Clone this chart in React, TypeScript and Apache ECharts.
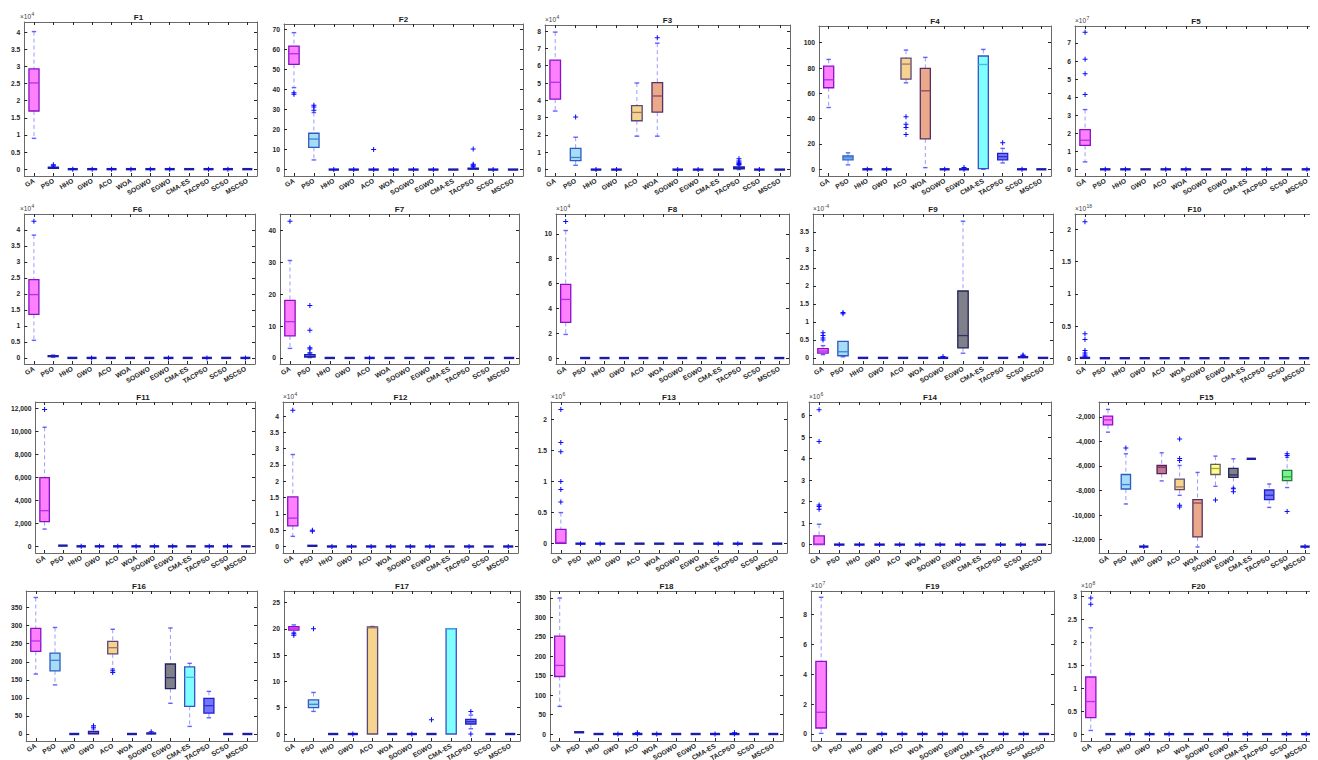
import React, { useEffect, useRef } from 'react';
import * as echarts from 'echarts';

const categories = ['GA', 'PSO', 'HHO', 'GWO', 'ACO', 'WOA', 'SOGWO', 'EGWO', 'CMA-ES', 'TACPSO', 'SCSO', 'MSCSO'];

const Z0 = [0, 0, 0, 0, 0];

// box rows: [min, q1, median, q3, max] per category, in displayed units
// F1 (x10^4)
const f1Ticks = [0, 0.5, 1, 1.5, 2, 2.5, 3, 3.5, 4];
const f1Box = [[0.9, 1.7, 2.52, 2.93, 4.02], [0.01, 0.02, 0.04, 0.06, 0.08], Z0, Z0, Z0, Z0, Z0, Z0, Z0, Z0, Z0, Z0];
const f1Out = [['PSO', 0.1], ['PSO', 0.13], ['HHO', 0], ['GWO', 0], ['ACO', 0], ['WOA', 0], ['SOGWO', 0], ['EGWO', 0], ['TACPSO', 0], ['SCSO', 0]];

// F2
const f2Ticks = [0, 10, 20, 30, 40, 50, 60, 70];
const f2Box = [[40.8, 52.4, 57.7, 61.5, 68.2], [4.8, 11.1, 15.2, 18.1, 28.4], Z0, Z0, Z0, Z0, Z0, Z0, Z0, [0, 0.2, 0.4, 0.7, 1.2], Z0, Z0];
const f2Out = [['GA', 37.5], ['GA', 38.3], ['PSO', 29.5], ['PSO', 31.2], ['PSO', 32], ['HHO', 0], ['GWO', 0], ['ACO', 0], ['ACO', 10], ['WOA', 0], ['SOGWO', 0], ['EGWO', 0], ['TACPSO', 1.6], ['TACPSO', 2.2], ['TACPSO', 2.6], ['TACPSO', 10.3], ['SCSO', 0]];

// F3 (x10^4)
const f3Ticks = [0, 1, 2, 3, 4, 5, 6, 7, 8];
const f3Box = [[3.38, 4.07, 5.04, 6.32, 7.94], [0.25, 0.52, 0.7, 1.22, 1.87], Z0, Z0, [1.93, 2.82, 3.3, 3.69, 5.0], [1.93, 3.32, 4.25, 5.02, 7.3], Z0, Z0, Z0, [0, 0.05, 0.1, 0.15, 0.25], Z0, Z0];
const f3Out = [['PSO', 3.03], ['WOA', 7.61], ['HHO', 0], ['GWO', 0], ['SOGWO', 0], ['EGWO', 0], ['SCSO', 0], ['TACPSO', 0.3], ['TACPSO', 0.35], ['TACPSO', 0.42], ['TACPSO', 0.5], ['TACPSO', 0.62]];

// F4
const f4Ticks = [0, 20, 40, 60, 80, 100];
const f4Box = [[48.8, 64.4, 70.7, 81.5, 86.8], [3.5, 7.5, 9, 10.5, 13], Z0, Z0, [68.3, 71.3, 83.1, 87.9, 94.2], [1.3, 24, 62, 79.7, 88.4], Z0, Z0, [0, 0.5, 82.8, 89.5, 94.7], [5, 7.5, 10, 12.5, 16.5], Z0, Z0];
const f4Out = [['ACO', 41.5], ['ACO', 35.5], ['ACO', 33], ['ACO', 27.5], ['TACPSO', 21], ['EGWO', 1.5], ['HHO', 0], ['GWO', 0], ['SOGWO', 0], ['EGWO', 0], ['SCSO', 0]];

// F5 (x10^7)
const f5Ticks = [0, 1, 2, 3, 4, 5, 6, 7];
const f5Box = [[0.41, 1.33, 1.61, 2.2, 3.31], Z0, Z0, Z0, Z0, Z0, Z0, Z0, Z0, Z0, Z0, Z0];
const f5Out = [['GA', 4.15], ['GA', 5.3], ['GA', 6.1], ['GA', 7.6], ['PSO', 0], ['HHO', 0], ['ACO', 0], ['WOA', 0], ['CMA-ES', 0], ['TACPSO', 0], ['MSCSO', 0]];

// F6 (x10^4)
const f6Ticks = [0, 0.5, 1, 1.5, 2, 2.5, 3, 3.5, 4];
const f6Box = [[0.55, 1.36, 1.98, 2.45, 3.84], [0.02, 0.04, 0.05, 0.07, 0.09], Z0, Z0, Z0, Z0, Z0, Z0, Z0, Z0, Z0, Z0];
const f6Out = [['GA', 4.27], ['GWO', 0], ['EGWO', 0], ['TACPSO', 0], ['MSCSO', 0]];

// F7
const f7Ticks = [0, 10, 20, 30, 40];
const f7Box = [[3.0, 6.9, 11.4, 18.1, 30.6], [0.1, 0.3, 0.5, 1.0, 1.3], Z0, Z0, Z0, Z0, Z0, Z0, Z0, Z0, Z0, Z0];
const f7Out = [['GA', 42.9], ['PSO', 1.6], ['PSO', 2.8], ['PSO', 3.2], ['PSO', 8.7], ['PSO', 16.5], ['ACO', 0]];

// F8 (x10^4)
const f8Ticks = [0, 2, 4, 6, 8, 10];
const f8Box = [[1.9, 2.87, 4.72, 5.93, 10.27], Z0, Z0, Z0, Z0, Z0, Z0, Z0, Z0, Z0, Z0, Z0];
const f8Out = [['GA', 11.0]];

// F9 (x10^-4)
const f9Ticks = [0, 0.5, 1, 1.5, 2, 2.5, 3, 3.5];
const f9Box = [[0.09, 0.13, 0.19, 0.26, 0.34], [0.03, 0.06, 0.17, 0.46, 0.47], Z0, Z0, Z0, Z0, Z0, [0.13, 0.28, 0.62, 1.86, 3.8], Z0, Z0, [0, 0.01, 0.02, 0.03, 0.04], Z0];
const f9Out = [['GA', 0.5], ['GA', 0.55], ['GA', 0.62], ['GA', 0.7], ['PSO', 1.23], ['PSO', 1.26], ['SOGWO', 0.04], ['SCSO', 0.06], ['SCSO', 0.08]];

// F10 (x10^18)
const f10Ticks = [0, 0.5, 1, 1.5, 2];
const f10Box = [[0, 0, 0.005, 0.01, 0.02], Z0, Z0, Z0, Z0, Z0, Z0, Z0, Z0, Z0, Z0, Z0];
const f10Out = [['GA', 0.03], ['GA', 0.05], ['GA', 0.08], ['GA', 0.12], ['GA', 0.29], ['GA', 0.38], ['GA', 2.12]];

// F11
const f11Ticks = [0, 2000, 4000, 6000, 8000, 10000, 12000];
const f11Box = [[1500, 2140, 3100, 5970, 10350], [20, 40, 60, 80, 120], Z0, Z0, Z0, Z0, Z0, Z0, Z0, Z0, Z0, Z0];
const f11Out = [['GA', 11900], ['HHO', 0], ['GWO', 0], ['ACO', 0], ['WOA', 0], ['SOGWO', 0], ['EGWO', 0], ['TACPSO', 0], ['SCSO', 0]];

// F12 (x10^4)
const f12Ticks = [0, 0.5, 1, 1.5, 2, 2.5, 3, 3.5, 4];
const f12Box = [[0.31, 0.63, 0.87, 1.52, 2.82], [0, 0.01, 0.02, 0.03, 0.05], Z0, Z0, Z0, Z0, Z0, Z0, Z0, Z0, Z0, Z0];
const f12Out = [['GA', 4.18], ['PSO', 0.47], ['PSO', 0.5], ['HHO', 0], ['GWO', 0], ['ACO', 0], ['WOA', 0], ['SOGWO', 0], ['EGWO', 0], ['TACPSO', 0], ['MSCSO', 0]];

// F13 (x10^6)
const f13Ticks = [0, 0.5, 1, 1.5, 2];
const f13Box = [[0, 0.005, 0.02, 0.23, 0.5], Z0, Z0, Z0, Z0, Z0, Z0, Z0, Z0, Z0, Z0, Z0];
const f13Out = [['GA', 0.67], ['GA', 0.87], ['GA', 1.0], ['GA', 1.48], ['GA', 1.63], ['GA', 2.16], ['PSO', 0], ['HHO', 0], ['CMA-ES', 0], ['TACPSO', 0]];

// F14 (x10^6)
const f14Ticks = [0, 1, 2, 3, 4, 5, 6];
const f14Box = [[0, 0.005, 0.02, 0.41, 0.95], Z0, Z0, Z0, Z0, Z0, Z0, Z0, Z0, Z0, Z0, Z0];
const f14Out = [['GA', 1.65], ['GA', 1.78], ['GA', 1.85], ['GA', 4.8], ['GA', 6.28], ['PSO', 0], ['HHO', 0], ['GWO', 0], ['ACO', 0], ['WOA', 0], ['SOGWO', 0], ['EGWO', 0], ['TACPSO', 0], ['SCSO', 0]];

// F15
const f15Ticks = [-12000, -10000, -8000, -6000, -4000, -2000];
const f15Box = [
  [-3250, -2660, -2250, -1940, -1400],
  [-9100, -7880, -7520, -6700, -5010],
  [-12569, -12569, -12569, -12569, -12569],
  [-7220, -6620, -6100, -5960, -4930],
  [-8390, -7930, -7710, -7080, -5960],
  [-12600, -11780, -9020, -8750, -6530],
  [-7660, -6700, -6210, -5880, -5200],
  [-7790, -6940, -6730, -6200, -5420],
  [-5500, -5450, -5420, -5400, -5380],
  [-9380, -8750, -8390, -7960, -7470],
  [-7760, -7190, -6890, -6370, -5300],
  [-12569, -12569, -12569, -12569, -12569],
];
const f15Out = [['PSO', -4540], ['HHO', -12569], ['ACO', -3800], ['ACO', -5400], ['ACO', -5550], ['ACO', -9200], ['ACO', -9350], ['SOGWO', -8780], ['EGWO', -7850], ['EGWO', -8100], ['SCSO', -5000], ['SCSO', -5150], ['SCSO', -9720], ['MSCSO', -12569]];

// F16
const f16Ticks = [0, 50, 100, 150, 200, 250, 300, 350];
const f16Box = [[166, 229, 257.6, 292.5, 378], [136, 175, 204, 224, 295], Z0, [0, 0.5, 2, 7, 14], [180, 222, 239, 256.5, 290], Z0, [0, 0.5, 1.5, 3, 5], [85, 125.5, 156, 193.8, 293.6], [21, 76.5, 157, 186, 195.6], [45, 58, 78.4, 98.6, 118], Z0, Z0];
const f16Out = [['GWO', 19], ['GWO', 23], ['ACO', 170], ['ACO', 175], ['SOGWO', 6.5]];

// F17
const f17Ticks = [0, 5, 10, 15, 20, 25];
const f17Box = [[19.3, 19.75, 20.0, 20.4, 20.75], [4.3, 5.0, 5.65, 6.5, 7.9], Z0, Z0, [0, 0, 20.2, 20.35, 20.45], Z0, Z0, Z0, [0, 0, 20.0, 20.05, 20.1], [1.0, 1.9, 2.35, 2.8, 3.6], Z0, Z0];
const f17Out = [['GA', 18.8], ['GA', 19.05], ['PSO', 20], ['GWO', 0], ['SOGWO', 0], ['EGWO', 2.7], ['TACPSO', 4.3], ['TACPSO', 0]];

// F18
const f18Ticks = [0, 50, 100, 150, 200, 250, 300, 350];
const f18Box = [[71, 148, 176.5, 252, 350], [2, 3.5, 4.5, 5.5, 7], Z0, Z0, Z0, Z0, Z0, Z0, Z0, Z0, Z0, Z0];
const f18Out = [['GWO', 0], ['ACO', 0], ['ACO', 3], ['WOA', 0], ['CMA-ES', 0], ['TACPSO', 0], ['TACPSO', 3]];

// F19 (x10^7)
const f19Ticks = [0, 2, 4, 6, 8];
const f19Box = [[0.04, 0.4, 1.45, 4.86, 9.14], Z0, Z0, Z0, Z0, Z0, Z0, Z0, Z0, Z0, Z0, Z0];
const f19Out = [['GWO', 0], ['ACO', 0], ['WOA', 0], ['SOGWO', 0], ['EGWO', 0], ['TACPSO', 0], ['SCSO', 0]];

// F20 (x10^8)
const f20Ticks = [0, 0.5, 1, 1.5, 2, 2.5, 3];
const f20Box = [[0.08, 0.36, 0.71, 1.245, 2.32], Z0, Z0, Z0, Z0, Z0, Z0, Z0, Z0, Z0, Z0, Z0];
const f20Out = [['GA', 2.83], ['GA', 2.97], ['HHO', 0], ['GWO', 0], ['ACO', 0], ['EGWO', 0], ['CMA-ES', 0], ['SCSO', 0], ['MSCSO', 0]];

const panels = [
  { name: 'F1', box: f1Box, out: f1Out, ticks: f1Ticks, min: -0.2, max: 4.3, exp: '4' },
  { name: 'F2', box: f2Box, out: f2Out, ticks: f2Ticks, min: -3.2, max: 72.5, exp: '' },
  { name: 'F3', box: f3Box, out: f3Out, ticks: f3Ticks, min: -0.37, max: 8.35, exp: '4' },
  { name: 'F4', box: f4Box, out: f4Out, ticks: f4Ticks, min: -5.3, max: 113.2, exp: '' },
  { name: 'F5', box: f5Box, out: f5Out, ticks: f5Ticks, min: -0.37, max: 7.94, exp: '7' },
  { name: 'F6', box: f6Box, out: f6Out, ticks: f6Ticks, min: -0.19, max: 4.5, exp: '4' },
  { name: 'F7', box: f7Box, out: f7Out, ticks: f7Ticks, min: -1.9, max: 45.2, exp: '' },
  { name: 'F8', box: f8Box, out: f8Out, ticks: f8Ticks, min: -0.48, max: 11.6, exp: '4' },
  { name: 'F9', box: f9Box, out: f9Out, ticks: f9Ticks, min: -0.17, max: 4.0, exp: '-4' },
  { name: 'F10', box: f10Box, out: f10Out, ticks: f10Ticks, min: -0.09, max: 2.24, exp: '18' },
  { name: 'F11', box: f11Box, out: f11Out, ticks: f11Ticks, min: -580, max: 12548, exp: '', comma: true },
  { name: 'F12', box: f12Box, out: f12Out, ticks: f12Ticks, min: -0.2, max: 4.43, exp: '4' },
  { name: 'F13', box: f13Box, out: f13Out, ticks: f13Ticks, min: -0.15, max: 2.28, exp: '6' },
  { name: 'F14', box: f14Box, out: f14Out, ticks: f14Ticks, min: -0.39, max: 6.64, exp: '6' },
  { name: 'F15', box: f15Box, out: f15Out, ticks: f15Ticks, min: -13090, max: -795, exp: '', comma: true },
  { name: 'F16', box: f16Box, out: f16Out, ticks: f16Ticks, min: -19.4, max: 396, exp: '' },
  { name: 'F17', box: f17Box, out: f17Out, ticks: f17Ticks, min: -1.33, max: 27.2, exp: '' },
  { name: 'F18', box: f18Box, out: f18Out, ticks: f18Ticks, min: -18, max: 368, exp: '' },
  { name: 'F19', box: f19Box, out: f19Out, ticks: f19Ticks, min: -0.47, max: 9.56, exp: '7' },
  { name: 'F20', box: f20Box, out: f20Out, ticks: f20Ticks, min: -0.15, max: 3.12, exp: '8' },
];

// layout: [left, top, right, bottom] of each plot frame in px
const frames = [
  [12, 14, 249, 168], [276, 16, 515, 168], [537, 17, 782, 168], [811, 18, 1043, 168], [1067, 18, 1309, 168],
  [12, 206, 247, 356], [272, 206, 511, 356], [548, 206, 781, 356], [805, 206, 1045, 356], [1067, 206, 1306, 356],
  [23, 394, 247, 545], [275, 394, 510, 545], [543, 394, 779, 545], [801, 394, 1043, 545], [1091, 394, 1306, 545],
  [13, 583, 249, 733], [276, 583, 512, 733], [542, 583, 775, 733], [803, 583, 1046, 733], [1073, 583, 1308, 733],
];

const fillColors = ['#ff80ff', '#a8dcf5', '#5a5ac8', '#c07890', '#f5d48f', '#e9a98a', '#ffff8c', '#80808a', '#80ffff', '#7474ff', '#78f58a', '#ff6a6a'];
const edgeColors = ['#8a10c8', '#2a5cc4', '#1a1a9a', '#5a2058', '#5e4676', '#5a3060', '#5e5e5e', '#22225a', '#3a50c8', '#2020c8', '#207a3a', '#a02030'];
const medColors = ['#b030e8', '#3c80d8', '#2020a0', '#7a3060', '#a07860', '#904860', '#b0a040', '#30306a', '#40b8e8', '#3030c0', '#30a050', '#c03040'];

const FONT = '"Liberation Sans", Arial, Helvetica, sans-serif';
const TXT = '#262626';
const FRAME = '#6a6a6a';
const FLAT = '#1c1ca8';
const PLUS = 'path://M2,0 L3,0 L3,2 L5,2 L5,3 L3,3 L3,5 L2,5 L2,3 L0,3 L0,2 L2,2 Z';

const fmt = (comma?: boolean) => (v: number) => {
  const r = parseFloat(Number(v).toFixed(6));
  return comma ? r.toLocaleString('en-US') : String(r);
};

const renderBox = (params: any, api: any) => {
  const k = params.dataIndex;
  const x = api.value(0);
  const pMin = api.coord([x, api.value(1)]);
  const pQ1 = api.coord([x, api.value(2)]);
  const pMed = api.coord([x, api.value(3)]);
  const pQ3 = api.coord([x, api.value(4)]);
  const pMax = api.coord([x, api.value(5)]);
  const band = api.size([1, 0])[0];
  const w = band * 0.52;
  const cx = pMed[0];
  const cap = w * 0.22;
  const flat = Math.abs(pQ1[1] - pQ3[1]) < 1.5 && Math.abs(pMin[1] - pMax[1]) < 2;
  const children: any[] = [];
  if (flat) {
    children.push({
      type: 'line',
      shape: { x1: cx - w / 2, y1: pMed[1], x2: cx + w / 2, y2: pMed[1] },
      style: { stroke: FLAT, fill: null, lineWidth: 2.4 },
    });
    return { type: 'group', children };
  }
  const dash = { stroke: 'rgba(90,90,255,0.6)', fill: null, lineWidth: 1, lineDash: [4, 3] };
  const capStyle = { stroke: 'rgba(60,60,255,0.8)', fill: null, lineWidth: 1.4 };
  if (pMax[1] < pQ3[1] - 0.5) {
    children.push({ type: 'line', shape: { x1: cx, y1: pMax[1], x2: cx, y2: pQ3[1] }, style: dash });
  }
  if (pMin[1] > pQ1[1] + 0.5) {
    children.push({ type: 'line', shape: { x1: cx, y1: pQ1[1], x2: cx, y2: pMin[1] }, style: dash });
  }
  if (Math.abs(pMax[1] - pQ3[1]) > 0.5) {
    children.push({ type: 'line', shape: { x1: cx - cap, y1: pMax[1], x2: cx + cap, y2: pMax[1] }, style: capStyle });
  }
  if (Math.abs(pMin[1] - pQ1[1]) > 0.5) {
    children.push({ type: 'line', shape: { x1: cx - cap, y1: pMin[1], x2: cx + cap, y2: pMin[1] }, style: capStyle });
  }
  const h = pQ1[1] - pQ3[1];
  children.push({
    type: 'rect',
    shape: { x: cx - w / 2, y: pQ3[1], width: w, height: Math.max(h, 0) },
    style: { fill: fillColors[k], stroke: h < 3 ? FLAT : edgeColors[k], lineWidth: 1.3 },
  });
  children.push({
    type: 'line',
    shape: { x1: cx - w / 2, y1: pMed[1], x2: cx + w / 2, y2: pMed[1] },
    style: { stroke: h < 3 ? FLAT : medColors[k], fill: null, lineWidth: 1.3 },
  });
  return { type: 'group', children };
};

function buildOption() {
  const grid: any[] = [];
  const xAxis: any[] = [];
  const yAxis: any[] = [];
  const xTop: any[] = [];
  const yRight: any[] = [];
  const series: any[] = [];
  const graphic: any[] = [];

  panels.forEach((p, i) => {
    const [l, t, r, b] = frames[i];
    grid.push({ left: l, top: t, width: r - l, height: b - t, show: false });
    const lineStyle = { color: FRAME, width: 1 };
    const catAxis = (pos: string, labels: boolean) => ({
      type: 'category',
      gridIndex: i,
      position: pos,
      data: categories,
      boundaryGap: true,
      axisLine: { show: true, onZero: false, lineStyle },
      axisTick: { show: true, inside: true, alignWithLabel: true, interval: 0, length: 3, lineStyle: { color: TXT, width: 1 } },
      axisLabel: labels
        ? { show: true, rotate: 30, interval: 0, fontSize: 6.7, fontWeight: 'bold', fontFamily: FONT, color: TXT, margin: 4, hideOverlap: false }
        : { show: false },
      splitLine: { show: false },
    });
    const valAxis = (pos: string, labels: boolean) => ({
      type: 'value',
      gridIndex: i,
      position: pos,
      min: p.min,
      max: p.max,
      axisLine: { show: true, onZero: false, lineStyle },
      axisTick: { show: true, inside: true, length: 3, customValues: p.ticks, lineStyle: { color: TXT, width: 1 } },
      axisLabel: labels
        ? { show: true, customValues: p.ticks, formatter: fmt((p as any).comma), fontSize: 6.7, fontWeight: 'bold', fontFamily: FONT, color: TXT, margin: 4, hideOverlap: false }
        : { show: false },
      splitLine: { show: false },
    });
    xAxis.push(catAxis('bottom', true));
    xTop.push(catAxis('top', false));
    yAxis.push(valAxis('left', true));
    yRight.push(valAxis('right', false));

    series.push({
      type: 'custom',
      xAxisIndex: i,
      yAxisIndex: i,
      renderItem: renderBox,
      encode: { x: 0, y: [1, 2, 3, 4, 5] },
      data: p.box.map((row, k) => [k, ...row]),
      clip: false,
      silent: true,
      z: 2,
    });
    series.push({
      type: 'scatter',
      xAxisIndex: i,
      yAxisIndex: i,
      data: p.out,
      symbol: PLUS,
      symbolSize: 5,
      itemStyle: { color: '#0a0aff', opacity: 1 },
      silent: true,
      z: 3,
    });

    graphic.push({
      type: 'text',
      x: (l + r) / 2,
      y: t - 1,
      style: {
        text: p.name,
        font: `bold 8px ${FONT}`,
        fill: '#1a1a1a',
        align: 'center',
        verticalAlign: 'bottom',
        textAlign: 'center',
        textVerticalAlign: 'bottom',
      },
    });
    if (p.exp) {
      graphic.push({
        type: 'text',
        x: l,
        y: t - 2,
        style: { text: '\u00d710', font: `6.5px ${FONT}`, fill: '#404040', align: 'left', verticalAlign: 'bottom', textAlign: 'left', textVerticalAlign: 'bottom' },
      });
      graphic.push({
        type: 'text',
        x: l + 11.5,
        y: t - 5.5,
        style: { text: p.exp, font: `5px ${FONT}`, fill: '#404040', align: 'left', verticalAlign: 'bottom', textAlign: 'left', textVerticalAlign: 'bottom' },
      });
    }
  });

  return {
    animation: false,
    backgroundColor: '#ffffff',
    textStyle: { fontFamily: FONT },
    grid,
    xAxis: [...xAxis, ...xTop],
    yAxis: [...yAxis, ...yRight],
    series,
    graphic,
    tooltip: { show: false },
  };
}

export default function App() {
  const ref = useRef<HTMLDivElement>(null);
  useEffect(() => {
    if (!ref.current) return;
    const chart = echarts.init(ref.current, undefined, { renderer: 'svg' });
    chart.setOption(buildOption() as any);
    return () => chart.dispose();
  }, []);
  return (
    <div
      ref={ref}
      style={{ position: 'fixed', left: 0, top: 0, width: 1318, height: 760, background: '#fff' }}
    />
  );
}
